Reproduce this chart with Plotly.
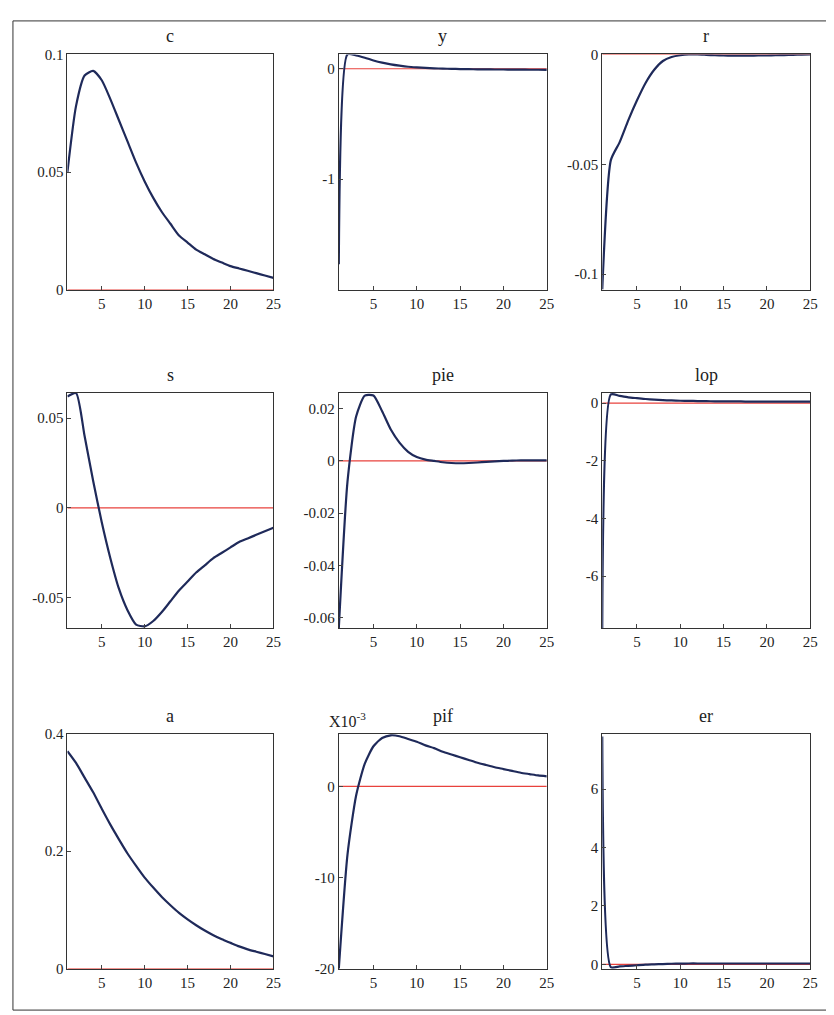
import plotly.graph_objects as go

periods = list(range(1, 26))
names = ["c", "y", "r", "s", "pie", "lop", "a", "pif", "er"]
c = [0.05, 0.078, 0.091, 0.093, 0.089, 0.081, 0.072, 0.063, 0.054, 0.046, 0.039, 0.033, 0.028, 0.023, 0.020, 0.017, 0.015, 0.013, 0.0115, 0.010, 0.009, 0.008, 0.007, 0.006, 0.005]
y = [-1.77, 0.13, 0.12, 0.10, 0.075, 0.055, 0.04, 0.028, 0.018, 0.012, 0.007, 0.004, 0.001, -0.001, -0.003, -0.004, -0.005, -0.006, -0.007, -0.007, -0.008, -0.008, -0.009, -0.009, -0.01]
r = [-0.107, -0.048, -0.040, -0.030, -0.021, -0.013, -0.007, -0.003, -0.0012, -0.0004, 0.0, 0.0, -0.0002, -0.0004, -0.0005, -0.0006, -0.0006, -0.0006, -0.0005, -0.0005, -0.0004, -0.0003, -0.0002, -0.0001, 0.0]
s = [0.062, 0.064, 0.04, 0.015, -0.008, -0.028, -0.045, -0.057, -0.065, -0.066, -0.063, -0.058, -0.052, -0.046, -0.041, -0.036, -0.032, -0.028, -0.025, -0.022, -0.019, -0.017, -0.015, -0.013, -0.011]
pie = [-0.064, -0.008, 0.017, 0.025, 0.025, 0.019, 0.012, 0.007, 0.0035, 0.0015, 0.0005, 0.0, -0.0005, -0.0008, -0.0009, -0.0008, -0.0006, -0.0004, -0.0002, 0.0, 0.0001, 0.0002, 0.0002, 0.0002, 0.0002]
lop = [-7.8, 0.3, 0.25, 0.2, 0.17, 0.14, 0.12, 0.1, 0.09, 0.08, 0.075, 0.07, 0.065, 0.06, 0.06, 0.055, 0.055, 0.05, 0.05, 0.05, 0.05, 0.05, 0.05, 0.05, 0.05]
a = [0.37, 0.35, 0.325, 0.30, 0.272, 0.245, 0.22, 0.196, 0.175, 0.155, 0.138, 0.122, 0.108, 0.095, 0.084, 0.074, 0.065, 0.057, 0.050, 0.044, 0.038, 0.033, 0.029, 0.025, 0.021]
pif = [-20.0, -7.5, -1.0, 2.5, 4.4, 5.3, 5.6, 5.5, 5.2, 4.9, 4.5, 4.2, 3.8, 3.5, 3.2, 2.9, 2.6, 2.35, 2.1, 1.9, 1.7, 1.5, 1.35, 1.2, 1.1]
er = [7.8, -0.1, -0.07, -0.05, -0.03, -0.01, 0.0, 0.01, 0.02, 0.025, 0.03, 0.03, 0.03, 0.03, 0.03, 0.03, 0.03, 0.03, 0.03, 0.03, 0.03, 0.03, 0.03, 0.03, 0.03]
series = [c, y, r, s, pie, lop, a, pif, er]
yranges = [[0, 0.1], [-2.0, 0.13], [-0.107, 0.0], [-0.067, 0.064], [-0.064, 0.026],
           [-7.8, 0.35], [0, 0.4], [-20, 5.8], [-0.15, 7.9]]
ytickvals = [[0, 0.05, 0.1], [-1, 0], [-0.1, -0.05, 0], [-0.05, 0, 0.05],
             [-0.06, -0.04, -0.02, 0, 0.02], [-6, -4, -2, 0], [0, 0.2, 0.4], [-20, -10, 0], [0, 2, 4, 6]]
yticktext = [["0", "0.05", "0.1"], ["-1", "0"], ["-0.1", "-0.05", "0"], ["-0.05", "0", "0.05"],
             ["-0.06", "-0.04", "-0.02", "0", "0.02"], ["-6", "-4", "-2", "0"], ["0", "0.2", "0.4"],
             ["-20", "-10", "0"], ["0", "2", "4", "6"]]
xtickvals = [5, 10, 15, 20, 25]

W, H = 834, 1015
xdoms = [[60 / W, 268 / W], [334 / W, 544 / W], [600 / W, 810 / W]]
ydoms = [[1 - 278 / H, 1 - 39 / H], [1 - 622 / H, 1 - 383 / H], [1 - 968 / H, 1 - 729 / H]]
font = "Liberation Serif"

fig = go.Figure()
layout = {}
annotations = []
for i, (nm, vals) in enumerate(zip(names, series)):
    row, col = divmod(i, 3)
    k = "" if i == 0 else str(i + 1)
    fig.add_trace(go.Scatter(x=periods, y=[0] * len(periods), mode="lines",
                             line=dict(color="#e8423c", width=1.2), xaxis="x" + k, yaxis="y" + k,
                             showlegend=False))
    fig.add_trace(go.Scatter(x=periods, y=vals, mode="lines",
                             line=dict(color="#1f2a5a", width=2.2, shape="spline", smoothing=0.6),
                             xaxis="x" + k, yaxis="y" + k, showlegend=False))
    layout["xaxis" + k] = dict(domain=xdoms[col], anchor="y" + k, range=[1, 25], tickvals=xtickvals,
                               ticks="inside", ticklen=4, showgrid=False, zeroline=False,
                               showline=True, mirror=True, linecolor="#333", linewidth=1,
                               tickfont=dict(family=font, size=15, color="#222"))
    layout["yaxis" + k] = dict(domain=ydoms[row], anchor="x" + k, range=yranges[i],
                               tickvals=ytickvals[i], ticktext=yticktext[i],
                               ticks="inside", ticklen=4, showgrid=False, zeroline=False,
                               showline=True, mirror=True, linecolor="#333", linewidth=1,
                               tickfont=dict(family=font, size=15, color="#222"))
    annotations.append(dict(text=nm, x=sum(xdoms[col]) / 2, y=ydoms[row][1] + 6 / H,
                            xref="paper", yref="paper", xanchor="center", yanchor="bottom",
                            showarrow=False, font=dict(family=font, size=18, color="#222")))
annotations.append(dict(text="X10<sup>-3</sup>", x=xdoms[1][0] - 12 / W, y=ydoms[2][1] + 2 / H,
                        xref="paper", yref="paper", xanchor="left", yanchor="bottom",
                        showarrow=False, font=dict(family=font, size=16, color="#222")))

fig.update_layout(**layout, annotations=annotations, width=W, height=H,
                  margin=dict(l=0, r=0, t=0, b=0), plot_bgcolor="white", paper_bgcolor="white",
                  shapes=[dict(type="rect", xref="paper", yref="paper", x0=5 / W, x1=829 / W,
                               y0=5 / H, y1=1 - 5 / H, line=dict(color="#333", width=1))])
fig.write_html("out.html")
